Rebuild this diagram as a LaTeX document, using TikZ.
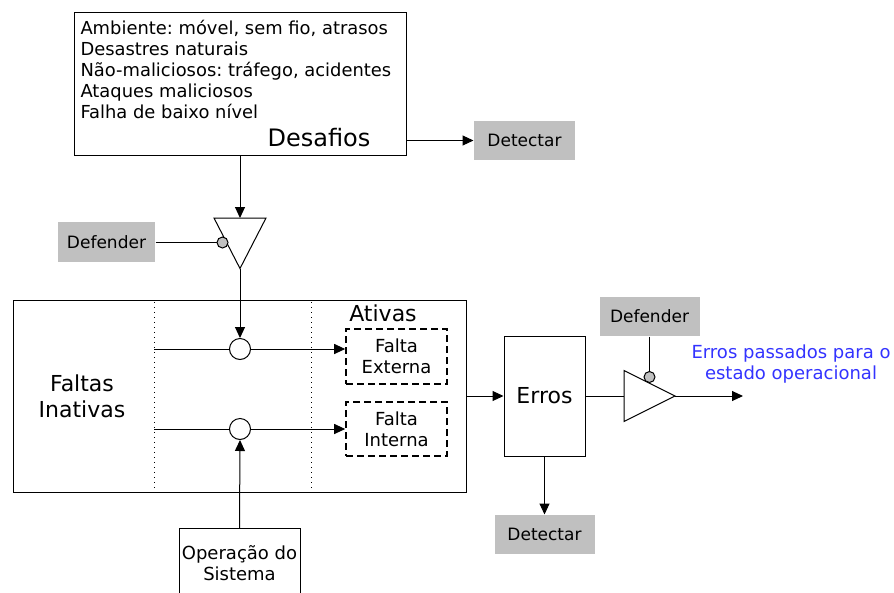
\documentclass[tikz,border=0pt]{standalone}
\usepackage{fontspec}
\setmainfont{DejaVu Sans}
\usetikzlibrary{arrows.meta}
\definecolor{boxgray}{RGB}{192,192,192}
\definecolor{bluetxt}{RGB}{51,51,255}
\newcommand{\fsmall}{\fontsize{17}{20}\selectfont}
\newcommand{\fmid}{\fontsize{18}{21}\selectfont}
\newcommand{\ftop}{\fontsize{17.9}{21}\selectfont}
\newcommand{\fbig}{\fontsize{22}{26}\selectfont}
\frenchspacing
\begin{document}
\frenchspacing
\begin{tikzpicture}[x=1pt,y=-1pt, line width=1pt,
  >={Triangle[length=11pt,width=10pt]},
  graybox/.style={fill=boxgray, inner sep=0pt, minimum width=100pt, minimum height=39pt, font=\fsmall},
  plainbox/.style={draw, inner sep=0pt},
  junction/.style={circle, draw, fill=white, minimum size=21pt, inner sep=0pt},
  tap/.style={circle, draw, fill=boxgray, minimum size=11pt, inner sep=0pt},
  dashbox/.style={draw, line width=1.6pt, dash pattern=on 7pt off 4pt, minimum width=101pt, inner sep=0pt, align=center, font=\fmid},
  dotline/.style={dash pattern=on 1pt off 4pt, line width=1pt},
  txt/.style={inner sep=0pt}
]
\useasboundingbox (0,0) rectangle (894,592);

% top box
\node[plainbox, minimum width=332pt, minimum height=143pt] (chal) at (240,83.5) {};
\node[txt, anchor=base west, font=\ftop] (l1) at (80,34) {Ambiente: móvel, sem fio, atrasos};
\node[txt, anchor=base west, font=\ftop] (l2) at (80,55) {Desastres naturais};
\node[txt, anchor=base west, font=\ftop] (l3) at (80,76) {Não-maliciosos: tráfego, acidentes};
\node[txt, anchor=base west, font=\ftop] (l4) at (80,97) {Ataques maliciosos};
\node[txt, anchor=base west, font=\ftop] (l5) at (80,118) {Falha de baixo nível};
\node[txt, anchor=base, font=\fontsize{24}{28}\selectfont] (desaf) at (319,146) {Desafios};

\node[graybox, minimum width=101pt] (det1) at (524.5,140.5) {Detectar};
\draw[->] (chal.east |- det1.west) -- (det1.west);

% triangle 1
\coordinate (t1top) at (240,218);
\coordinate (t1apex) at (240,268.5);
\draw (214,218) -- (266,218) -- (t1apex) -- cycle;
\draw[->] (chal.south) -- (t1top);
\node[graybox, minimum width=97pt, minimum height=40pt] (def1) at (106.5,242) {Defender};
\node[tap] (tap1) at (222.5,242.5) {};
\draw (def1.east |- tap1.west) -- (tap1.west);

% big box
\node[plainbox, minimum width=453pt, minimum height=192pt] (big) at (239.5,396) {};
\coordinate (da1) at (154,302);
\coordinate (da2) at (154,490);
\coordinate (db1) at (311,302);
\coordinate (db2) at (311,490);
\draw[dotline] (da1) -- (da2);
\draw[dotline] (db1) -- (db2);
\node[txt, align=center, font=\fbig] (inat) at (82,396) {Faltas\\Inativas};
\node[txt, font=\fbig] (ativ) at (383,313) {Ativas};

\node[junction] (j1) at (240,349) {};
\node[junction] (j2) at (240,429) {};
\node[dashbox, minimum height=55pt] (ext) at (396.5,356.5) {Falta\\Externa};
\node[dashbox, minimum height=54pt] (int) at (396.5,429) {Falta\\Interna};
\coordinate (s1) at (154,349);
\coordinate (s2) at (154,429);
\draw (s1) -- (j1.west);
\draw (s2) -- (j2.west);
\draw[->] (j1.east) -- (ext.west |- j1.east);
\draw[->] (j2.east) -- (int.west |- j2.east);
\draw[->] (t1apex) -- (j1.north);

% operation
\node[plainbox, anchor=north, minimum width=121pt, minimum height=70pt, align=center, font=\fmid] (op) at (239.5,528) {Operação do\\Sistema};
\draw[->] (op.north) -- (j2.south);

% errors
\node[plainbox, minimum width=81pt, minimum height=120pt, font=\fbig] (erros) at (544.5,396) {Erros};
\draw[->] (big.east) -- (erros.west);
\node[graybox] (det2) at (544.5,534.5) {Detectar};
\draw[->] (erros.south) -- (det2.north);

% triangle 2
\coordinate (t2left) at (624,396);
\coordinate (t2apex) at (675,396);
\draw (624,370.5) -- (t2apex) -- (624,421.5) -- cycle;
\draw (erros.east) -- (t2left);
\coordinate (outp) at (743,396);
\draw[->] (t2apex) -- (outp);
\node[graybox] (def2) at (649.5,316.5) {Defender};
\node[tap] (tap2) at (649.5,377) {};
\draw (def2.south) -- (tap2.north);

\node[txt, align=center, text=bluetxt, font=\fmid] (outtxt) at (791,364.5) {Erros passados para o\\estado operacional};
\end{tikzpicture}
\end{document}
